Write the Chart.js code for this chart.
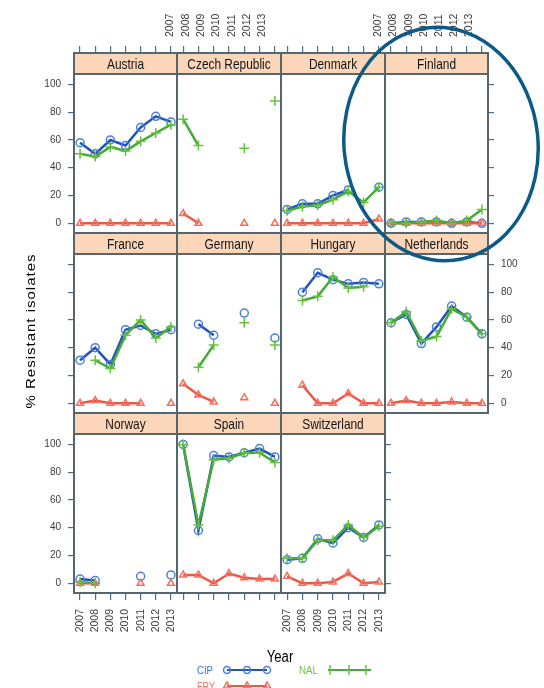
<!DOCTYPE html>
<html>
<head>
<meta charset="utf-8">
<title>% Resistant isolates by country</title>
<script src="https://cdn.jsdelivr.net/npm/chart.js@4.4.1/dist/chart.umd.min.js"></script>
<style>
    html, body { margin: 0; padding: 0; background: #ffffff; }
    #figure { position: relative; width: 544px; height: 688px; overflow: hidden; background: #ffffff; }
    #figure canvas { position: absolute; }
    .txt { position: absolute; white-space: nowrap; font-family: 'Liberation Sans', Arial, sans-serif; }
    #ylab { left: 30px; top: 331px; font-size: 15px; letter-spacing: 1px; color: #000;
            transform: translate(-50%, -50%) scaleX(0.85) rotate(-90deg); }
    #xlab { left: 280px; top: 657px; font-size: 16px; color: #000; transform: translate(-50%, -50%) scaleX(0.82); }
    #overlay { position: absolute; left: 0; top: 0; pointer-events: none; }
</style>
</head>
<body>
<div id="figure">
    <div class="txt" id="ylab">% Resistant isolates</div>
    <div class="txt" id="xlab">Year</div>
</div>

<script>
// Daten
const years = [2007, 2008, 2009, 2010, 2011, 2012, 2013];
const yTicks = [0, 20, 40, 60, 80, 100];
const countries = ['Austria', 'Czech Republic', 'Denmark', 'Finland',
                   'France', 'Germany', 'Hungary', 'Netherlands',
                   'Norway', 'Spain', 'Switzerland'];

// eine Zeile pro Land (Reihenfolge wie countries), null = kein Wert
const cipValues = [
    [58, 50, 60, 56, 69, 77, 73],              // Austria
    [null, null, null, null, null, null, null], // Czech Republic
    [10, 14, 14, 20, 24, null, 26],            // Denmark
    [0, 1, 1, 1, 0, 1, 0],                     // Finland
    [31, 40, 28, 53, 56, 50, 53],              // France
    [null, 57, 49, null, 65, null, 47],        // Germany
    [null, 80, 94, 89, 86, 87, 86],            // Hungary
    [58, 64, 43, 55, 70, 62, 50],              // Netherlands
    [3, 2, null, null, 5, null, 6],            // Norway
    [100, 38, 92, 91, 94, 97, 91],             // Spain
    [17, 18, 32, 29, 40, 33, 42]               // Switzerland
];
const nalValues = [
    [50, 48, 55, 52, 59, 65, 71],
    [75, 56, null, null, 54, null, 88],
    [9, 12, 13, 17, 23, 15, 26],
    [0, 0, 1, 2, 0, 2, 10],
    [null, 31, 25, 49, 60, 47, 55],
    [null, 26, 42, null, 58, null, 42],
    [null, 74, 77, 91, 83, 84, null],
    [58, 66, 45, 48, 68, 62, 50],
    [1, 0, null, null, null, null, null],
    [100, 42, 89, 90, 94, 94, 87],
    [18, 18, 31, 31, 42, 33, 41]
];
const fryValues = [
    [0, 0, 0, 0, 0, 0, 0],
    [7, 0, null, null, 0, null, 0],
    [0, 0, 0, 0, 0, 0, 3],
    [0, 0, 0, 0, 0, 0, 0],
    [0, 2, 0, 0, 0, null, 0],
    [14, 6, 1, null, 4, null, 0],
    [null, 13, 0, 0, 7, 0, 0],
    [0, 2, 0, 0, 1, 0, 0],
    [0, 0, null, null, 0, null, 0],
    [6, 6, 0, 7, 4, 3, 3],
    [5, 0, 0, 1, 7, 0, 1]
];

// Layout (Pixel)
const colLeft = [74, 177, 281, 385];
const colWidth = [103, 104, 104, 103];
const stripTop = [53, 233, 413];
const STRIP = 21;
const PANEL_H = 159;
const M_SIDE = 45;
const M_TOP = 50;
const M_BOTTOM = 55;

const X_MIN = 2006.6, X_MAX = 2013.4;
const Y_MIN = -7, Y_MAX = 107.5;

const REGULAR = "'Liberation Sans', Arial, sans-serif";
const TICK_COLOR = '#4a7088';
const LABEL_COLOR = '#3c3c3c';
const FRAME_COLOR = '#56666f';
const STRIP_FILL = '#fcd6b8';

const CIP_LINE = '#2253bb', CIP_POINT = '#4b80da';
const NAL_LINE = '#45ac38', NAL_POINT = '#66c23c';
const FRY_LINE = '#ee5645', FRY_POINT = '#f2705e';

// feste Achsengroessen, damit alle Panels exakt gleich gross sind
function fixSize(size) {
    return function (scale) {
        if (scale.isHorizontal()) scale.height = size; else scale.width = size;
        scale.paddingLeft = 0; scale.paddingRight = 0;
        scale.paddingTop = 0; scale.paddingBottom = 0;
    };
}

function xAxis(position, size, weight, showTicks, showLabels) {
    return {
        type: 'linear', position: position, weight: weight,
        min: X_MIN, max: X_MAX,
        afterBuildTicks: s => { s.ticks = years.map(v => ({ value: v })); },
        afterFit: fixSize(size),
        border: { display: false },
        grid: { display: showTicks, drawOnChartArea: false, drawTicks: true,
                tickLength: 7, color: TICK_COLOR, lineWidth: 1.2 },
        ticks: { display: showLabels, autoSkip: false, minRotation: 90, maxRotation: 90,
                 padding: 9, color: LABEL_COLOR, font: { family: REGULAR, size: 10.5 },
                 callback: v => String(v) }
    };
}

function yAxis(position, showTicks, showLabels) {
    return {
        type: 'linear', position: position,
        min: Y_MIN, max: Y_MAX,
        afterBuildTicks: s => { s.ticks = yTicks.map(v => ({ value: v })); },
        afterFit: fixSize(M_SIDE),
        border: { display: false },
        grid: { display: showTicks, drawOnChartArea: false, drawTicks: true,
                tickLength: 6, color: TICK_COLOR, lineWidth: 1.2 },
        ticks: { display: showLabels, padding: 7, color: LABEL_COLOR,
                 font: { family: REGULAR, size: 10 }, callback: v => String(v) }
    };
}

function series(label, values, line, point, style, radius) {
    return {
        label: label,
        data: years.map((yr, i) => ({ x: yr, y: values[i] })),
        borderColor: line,
        borderWidth: 2.5,
        pointStyle: style,
        pointRadius: radius,
        pointBorderColor: point,
        pointBackgroundColor: 'rgba(0,0,0,0)',
        pointBorderWidth: 1.5,
        spanGaps: false,
        tension: 0,
        xAxisID: 'x',
        yAxisID: 'y'
    };
}

// Streifen mit Laendername + Panelrahmen
const panelFrame = {
    id: 'panelFrame',
    afterDraw(chart, args, opts) {
        const ctx = chart.ctx;
        const a = chart.chartArea;
        ctx.save();
        ctx.fillStyle = STRIP_FILL;
        ctx.fillRect(a.left, a.top - STRIP, a.right - a.left, STRIP);
        ctx.strokeStyle = FRAME_COLOR;
        ctx.lineWidth = 2;
        ctx.strokeRect(a.left, a.top - STRIP, a.right - a.left, STRIP);
        ctx.strokeRect(a.left, a.top, a.right - a.left, a.bottom - a.top);
        // schmale Schrift wie im Scan: horizontal gestaucht
        ctx.translate((a.left + a.right) / 2, a.top - STRIP / 2 + 1);
        ctx.scale(0.82, 1);
        ctx.fillStyle = '#141414';
        ctx.font = '14.5px ' + REGULAR;
        ctx.textAlign = 'center';
        ctx.textBaseline = 'middle';
        ctx.fillText(opts.title, 0, 0);
        ctx.restore();
    }
};

function initializePanels() {
    const figure = document.getElementById('figure');
    const lastCol = [3, 3, 2];

    countries.forEach((name, i) => {
        const row = Math.floor(i / 4);
        const col = i % 4;

        const canvas = document.createElement('canvas');
        const w = colWidth[col] + 2 * M_SIDE;
        const h = M_TOP + STRIP + PANEL_H + M_BOTTOM;
        canvas.width = w;
        canvas.height = h;
        canvas.style.left = (colLeft[col] - M_SIDE) + 'px';
        canvas.style.top = (stripTop[row] - M_TOP) + 'px';
        canvas.style.width = w + 'px';
        canvas.style.height = h + 'px';
        figure.insertBefore(canvas, document.getElementById('ylab'));

        // Achsen abwechselnd wie bei lattice
        const topTicks = row === 0;
        const topLabels = row === 0 && col % 2 === 1;
        const bottomTicks = row === 2;
        const bottomLabels = row === 2 && col % 2 === 0;
        const leftTicks = col === 0;
        const leftLabels = col === 0 && row !== 1;
        const rightTicks = col === lastCol[row];
        const rightLabels = rightTicks && row === 1;

        new Chart(canvas, {
            type: 'line',
            data: {
                datasets: [
                    series('NAL', nalValues[i], NAL_LINE, NAL_POINT, 'cross', 5),
                    series('FRY', fryValues[i], FRY_LINE, FRY_POINT, 'triangle', 4),
                    series('CIP', cipValues[i], CIP_LINE, CIP_POINT, 'circle', 4)
                ]
            },
            options: {
                responsive: false,
                animation: false,
                devicePixelRatio: 1,
                events: [],
                layout: { padding: 0, autoPadding: false },
                scales: {
                    x: xAxis('bottom', M_BOTTOM, 0, bottomTicks, bottomLabels),
                    xStrip: xAxis('top', STRIP, 0, false, false),
                    xTop: xAxis('top', M_TOP, 1, topTicks, topLabels),
                    y: yAxis('left', leftTicks, leftLabels),
                    yRight: yAxis('right', rightTicks, rightLabels)
                },
                plugins: {
                    legend: { display: false },
                    tooltip: { enabled: false },
                    panelFrame: { title: name }
                }
            },
            plugins: [panelFrame]
        });
    });
}

initializePanels();
</script>

<!-- Legende und Markierung -->
<svg id="overlay" width="544" height="688" xmlns="http://www.w3.org/2000/svg">
    <g font-family="'Liberation Sans', Arial, sans-serif" font-size="11.5">
        <text x="197" y="674" fill="#3d70d6" textLength="16" lengthAdjust="spacingAndGlyphs">CIP</text>
        <line x1="227" y1="670" x2="267" y2="670" stroke="#2253bb" stroke-width="2"/>
        <circle cx="227" cy="670" r="3.5" fill="none" stroke="#4b80da" stroke-width="1.5"/>
        <circle cx="247" cy="670" r="3.5" fill="none" stroke="#4b80da" stroke-width="1.5"/>
        <circle cx="267" cy="670" r="3.5" fill="none" stroke="#4b80da" stroke-width="1.5"/>

        <text x="197" y="690" fill="#f0705e" textLength="18" lengthAdjust="spacingAndGlyphs">FRY</text>
        <line x1="227" y1="686" x2="267" y2="686" stroke="#ee5645" stroke-width="2"/>
        <polygon points="227,682 230.5,688 223.5,688" fill="none" stroke="#f2705e" stroke-width="1.5"/>
        <polygon points="247,682 250.5,688 243.5,688" fill="none" stroke="#f2705e" stroke-width="1.5"/>
        <polygon points="267,682 270.5,688 263.5,688" fill="none" stroke="#f2705e" stroke-width="1.5"/>

        <text x="299" y="674" fill="#72c23a" textLength="19" lengthAdjust="spacingAndGlyphs">NAL</text>
        <line x1="328" y1="670" x2="371" y2="670" stroke="#45ac38" stroke-width="2"/>
        <path d="M330 665 V675 M349 665 V675 M366 665 V675" stroke="#66c23c" stroke-width="1.5"/>
    </g>
    <ellipse cx="441" cy="144" rx="97" ry="117" transform="rotate(-6 441 144)"
             fill="none" stroke="#0d5a87" stroke-width="3.5"/>
</svg>
</body>
</html>
